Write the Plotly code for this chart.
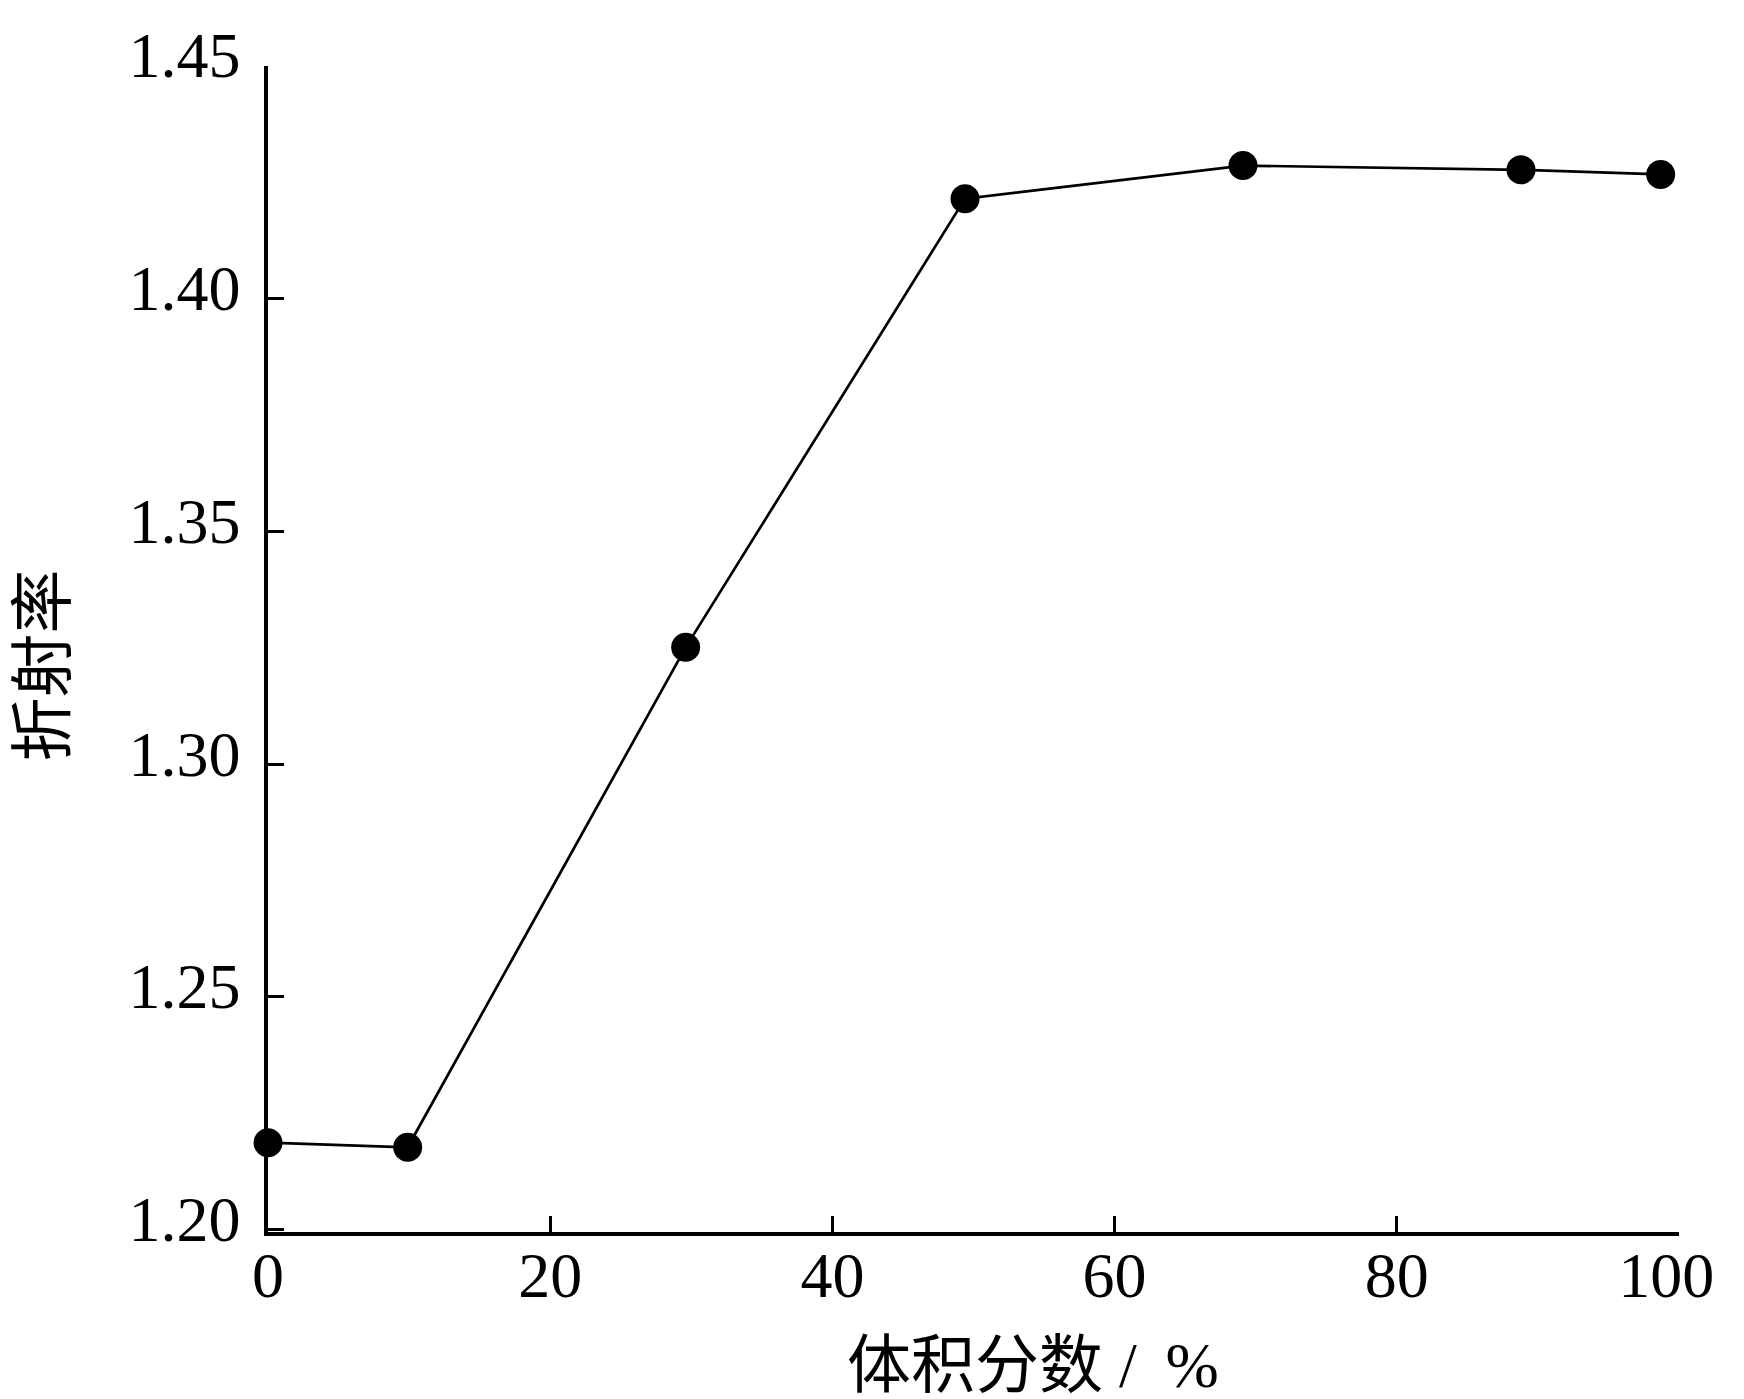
import plotly.graph_objects as go

# volume fraction (%) and refractive index
volume_fraction = [0, 9.9, 29.6, 49.4, 69.1, 88.8, 98.7]
refractive_index = [1.2187, 1.2177, 1.3251, 1.4215, 1.4286, 1.4277, 1.4267]

x_ticks = [0, 20, 40, 60, 80, 100]
# the last label is nudged left (trailing thin spaces) so it fits the page
x_labels = ["0", "20", "40", "60", "80", "100\u2009\u2009"]
y_ticks = [1.20, 1.25, 1.30, 1.35, 1.40, 1.45]
y_labels = ["1.20", "1.25", "1.30", "1.35", "1.40", "1.45"]

serif = "Liberation Serif, Times New Roman, Noto Sans CJK SC, serif"

fig = go.Figure()
fig.add_scatter(
    x=volume_fraction,
    y=refractive_index,
    mode="lines+markers",
    line=dict(color="black", width=2.7),
    marker=dict(color="black", size=29),
    cliponaxis=False,
    showlegend=False,
)

fig.update_layout(
    width=1744,
    height=1399,
    margin=dict(l=260, r=36, t=50, b=175),
    plot_bgcolor="white",
    paper_bgcolor="white",
    font=dict(family=serif, size=64, color="black"),
)

fig.update_xaxes(
    range=[0, 100],
    tickvals=x_ticks,
    ticktext=x_labels,
    ticks="inside",
    ticklen=16,
    tickwidth=3,
    tickcolor="black",
    ticklabelstandoff=-16,
    ticklabeloverflow="allow",
    showline=True,
    linewidth=3.5,
    linecolor="black",
    showgrid=False,
    zeroline=False,
)
fig.update_yaxes(
    range=[1.1995, 1.45],
    tickvals=y_ticks,
    ticktext=y_labels,
    ticks="inside",
    ticklen=16,
    tickwidth=3,
    tickcolor="black",
    ticklabelstandoff=11,
    ticklabelshift=-11,
    showline=True,
    linewidth=3.5,
    linecolor="black",
    showgrid=False,
    zeroline=False,
)

# axis titles as annotations so they sit where the original puts them
fig.add_annotation(
    text="体积分数 /\u2009 %",
    xref="x", yref="paper",
    x=54.2, y=0,
    yanchor="middle", yshift=-133,
    showarrow=False,
    font=dict(size=64),
)
fig.add_annotation(
    text="折射率",
    xref="paper", yref="y",
    x=0, y=1.3212,
    xanchor="center", xshift=-224,
    textangle=-90,
    showarrow=False,
    font=dict(size=64),
)

fig.write_html("out.html")
